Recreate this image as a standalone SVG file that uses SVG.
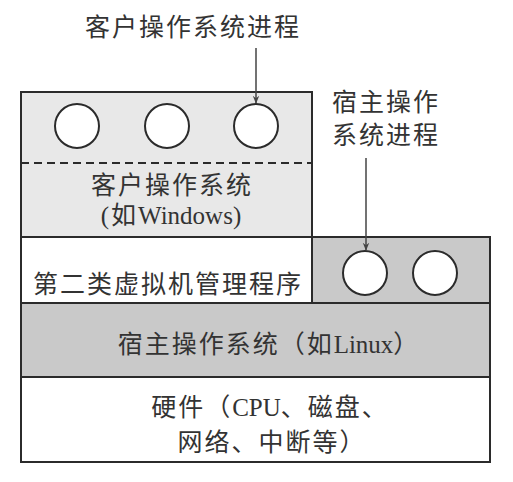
<svg xmlns="http://www.w3.org/2000/svg" width="513" height="482" viewBox="0 0 513 482">
<style>
.t{font-family:"Liberation Serif","Noto Sans CJK SC",serif;font-size:25px;fill:#333;text-anchor:middle;letter-spacing:2px}
.l{letter-spacing:0}
.b{stroke:#2b2b2b;stroke-width:2}
.c{fill:#fff;stroke:#2b2b2b;stroke-width:2}
.a{stroke:#444;stroke-width:1.5;fill:none}
</style>
<defs>
<marker id="ah" viewBox="0 0 10 10" refX="9" refY="5" markerWidth="8" markerHeight="8" orient="auto" markerUnits="userSpaceOnUse">
<path d="M0,1 L10,5 L0,9 L3,5 Z" fill="#444"/>
</marker>
</defs>
<rect width="513" height="482" fill="#fff"/>
<g id="guest-os">
<rect class="b" x="21" y="92" width="291" height="145" fill="#e8e8e8"/>
<line x1="21" y1="163" x2="312" y2="163" stroke="#2b2b2b" stroke-width="2" stroke-dasharray="8,5"/>
<circle class="c" cx="77" cy="126" r="22"/>
<circle class="c" cx="167" cy="126" r="22"/>
<circle class="c" cx="256" cy="126" r="22"/>
<text class="t" x="172" y="194">客户操作系统</text>
<text class="t" x="172" y="224">(如<tspan class="l">Windows</tspan>)</text>
</g>
<g id="hypervisor">
<rect class="b" x="21" y="237" width="291" height="66" fill="#fff"/>
<text class="t" x="168" y="293">第二类虚拟机管理程序</text>
</g>
<g id="host-procs">
<rect class="b" x="312" y="237" width="178" height="66" fill="#c9c9c9"/>
<circle class="c" cx="365" cy="273" r="22"/>
<circle class="c" cx="435" cy="273" r="22"/>
</g>
<g id="host-os">
<rect class="b" x="21" y="303" width="469" height="74" fill="#c9c9c9"/>
<text class="t" x="269" y="353">宿主操作系统（如<tspan class="l">Linux</tspan>）</text>
</g>
<g id="hardware">
<rect class="b" x="21" y="377" width="469" height="85" fill="#fff"/>
<text class="t" x="270" y="416">硬件（<tspan class="l">CPU</tspan>、磁盘、</text>
<text class="t" x="272" y="451">网络、中断等）</text>
</g>
<g id="labels">
<text class="t" x="193" y="36">客户操作系统进程</text>
<text class="t" x="386" y="111">宿主操作</text>
<text class="t" x="386" y="144">系统进程</text>
</g>
<g id="connectors">
<line class="a" x1="256" y1="48" x2="256" y2="103" marker-end="url(#ah)"/>
<line class="a" x1="366" y1="158" x2="366" y2="250" marker-end="url(#ah)"/>
</g>
</svg>
